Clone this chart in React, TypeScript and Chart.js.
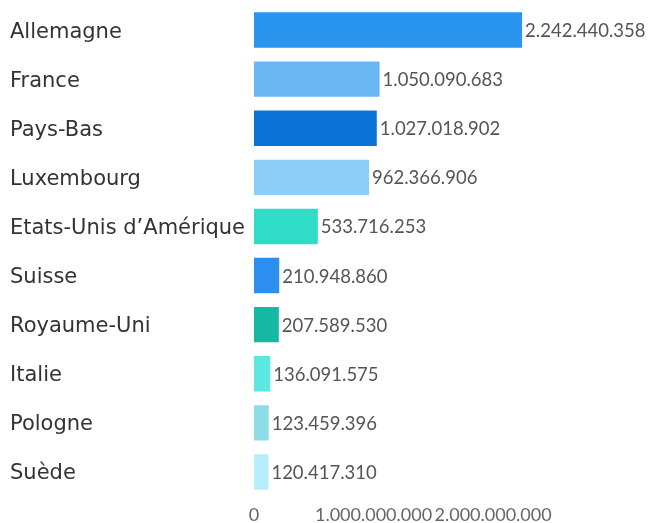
import React, { useEffect, useRef } from "react";
import { Chart, registerables } from "chart.js";

Chart.register(...registerables);

const countries = [
  "Allemagne",
  "France",
  "Pays-Bas",
  "Luxembourg",
  "Etats-Unis d’Amérique",
  "Suisse",
  "Royaume-Uni",
  "Italie",
  "Pologne",
  "Suède",
];

const values = [
  2242440358, 1050090683, 1027018902, 962366906, 533716253, 210948860,
  207589530, 136091575, 123459396, 120417310,
];

const barColors = [
  "#2995ee",
  "#6ab7f6",
  "#0b73d6",
  "#8ecdf6",
  "#2fdcc6",
  "#2b8ef0",
  "#16b8a2",
  "#5ae8e0",
  "#8cdde8",
  "#b5eef9",
];

const xTicks = [0, 1000000000, 2000000000];

const fmt = (v: number) =>
  Math.round(v)
    .toString()
    .replace(/\B(?=(\d{3})+(?!\d))/g, ".");

const valueLabels = {
  id: "valueLabels",
  afterDatasetsDraw(chart: any) {
    const ctx = chart.ctx;
    const meta = chart.getDatasetMeta(0);
    ctx.save();
    ctx.font = "18.5px Lato";
    ctx.fillStyle = "#555555";
    ctx.textAlign = "left";
    ctx.textBaseline = "middle";
    meta.data.forEach((bar: any, i: number) => {
      ctx.fillText(fmt(values[i]), bar.x + 3, bar.y + 1);
    });
    ctx.restore();
  },
};

export default function App() {
  const ref = useRef<HTMLCanvasElement>(null);
  useEffect(() => {
    if (!ref.current) return;
    const chart = new Chart(ref.current, {
      type: "bar",
      data: {
        labels: countries,
        datasets: [
          {
            data: values,
            backgroundColor: barColors,
            borderWidth: 0,
            categoryPercentage: 1,
            barPercentage: 0.72,
          },
        ],
      },
      options: {
        indexAxis: "y",
        animation: false,
        responsive: false,
        maintainAspectRatio: false,
        layout: { padding: { left: 10, right: 126, top: 5.5, bottom: 0 } },
        plugins: {
          legend: { display: false },
          tooltip: { enabled: false },
        },
        scales: {
          x: {
            type: "linear",
            min: 0,
            max: 2250000000,
            grid: { display: false, drawTicks: false },
            border: { display: false },
            afterBuildTicks: (scale: any) => {
              scale.ticks = xTicks.map((v) => ({ value: v }));
            },
            afterFit: (scale: any) => {
              scale.height = 26.5;
              scale.paddingLeft = 0;
              scale.paddingRight = 0;
            },
            ticks: {
              padding: 8,
              color: "#666666",
              font: { family: "Lato", size: 18 },
              maxRotation: 0,
              autoSkip: false,
              callback: (v: any) => fmt(Number(v)),
            },
          },
          y: {
            grid: { display: false, drawTicks: false },
            border: { display: false },
            afterFit: (scale: any) => {
              scale.width = 244;
              scale.paddingTop = 0;
              scale.paddingBottom = 0;
            },
            ticks: {
              crossAlign: "far",
              labelOffset: 2,
              color: "#333333",
              font: { family: "DejaVu Sans", size: 21 },
              autoSkip: false,
            },
          },
        },
      },
      plugins: [valueLabels],
    });
    return () => chart.destroy();
  }, []);
  return (
    <div style={{ position: "absolute", left: 0, top: 0, width: 649, height: 523, background: "#ffffff" }}>
      <canvas ref={ref} width={649} height={523} style={{ display: "block" }} />
    </div>
  );
}
